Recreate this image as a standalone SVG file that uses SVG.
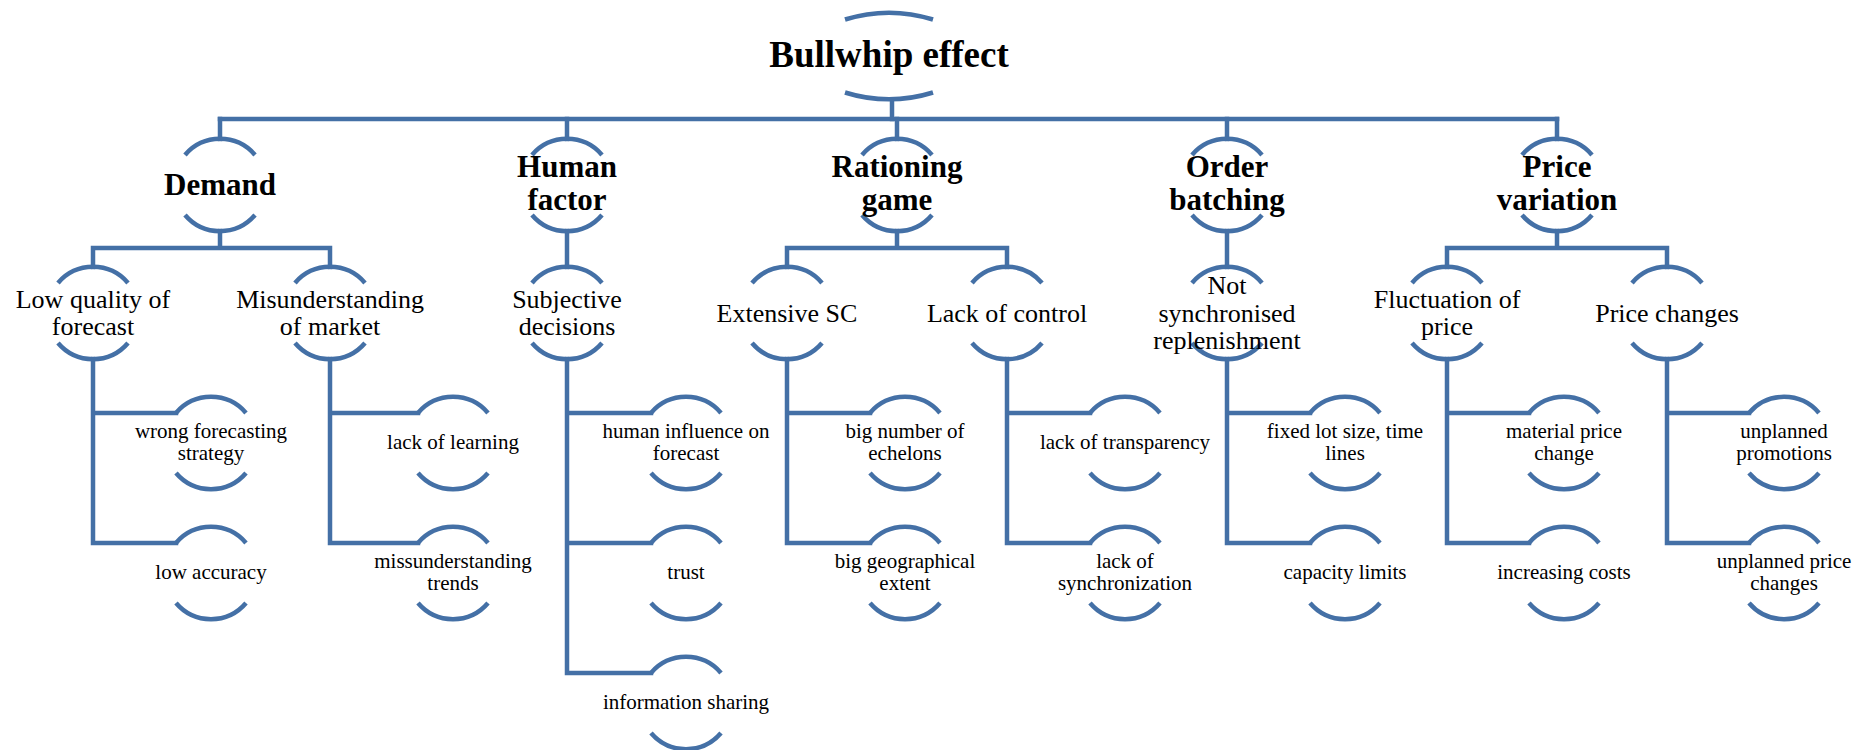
<svg xmlns="http://www.w3.org/2000/svg" xmlns:xlink="http://www.w3.org/1999/xlink" width="1872" height="750" viewBox="0 0 1872 750">
  <style>
    .arc { fill: none; stroke: #4470a6; stroke-width: 4.5; stroke-linecap: butt; }
    .con { fill: none; stroke: #4470a6; stroke-width: 4.5; stroke-linecap: square; stroke-linejoin: miter; }
    text { fill: #000; text-anchor: middle; font-family: "Liberation Serif", "Times New Roman", serif; }
    .t0 { font-size: 37px; font-weight: bold; }
    .t1 { font-size: 31px; font-weight: bold; }
    .t2 { font-size: 26px; }
    .t3 { font-size: 21px; }
  </style>
  <defs>
    <!-- half-circle brackets drawn above and below every label -->
    <path id="arcTop" class="arc" d="M -35 -30 A 46 46 0 0 1 35 -30"/>
    <path id="arcBot" class="arc" d="M -35 30 A 46 46 0 0 0 35 30"/>
    <!-- flatter brackets for the title node -->
    <path id="rootTop" class="arc" d="M -44 -37 A 148 148 0 0 1 44 -37"/>
    <path id="rootBot" class="arc" d="M -44 36 A 148 148 0 0 0 44 36"/>
  </defs>
  <rect width="1872" height="750" fill="#fff"/>

  <!-- connectors -->
  <g id="connectors" class="con">
    <!-- title to first level -->
    <path d="M 892 100 V 119"/>
    <path d="M 220 119 H 1557"/>
    <path d="M 220 119 V 139 M 567 119 V 139 M 897 119 V 139 M 1227 119 V 139 M 1557 119 V 139"/>
    <!-- first level to second level -->
    <path d="M 220 231 V 248 M 93 267 V 248 H 330 V 267"/>
    <path d="M 567 231 V 267"/>
    <path d="M 897 231 V 248 M 787 267 V 248 H 1007 V 267"/>
    <path d="M 1227 231 V 267"/>
    <path d="M 1557 231 V 248 M 1447 267 V 248 H 1667 V 267"/>
    <!-- second level to leaves -->
    <path d="M 93 359 V 543 H 176 M 93 413 H 176"/>
    <path d="M 330 359 V 543 H 418 M 330 413 H 418"/>
    <path d="M 567 359 V 673 H 651 M 567 413 H 651 M 567 543 H 651"/>
    <path d="M 787 359 V 543 H 870 M 787 413 H 870"/>
    <path d="M 1007 359 V 543 H 1090 M 1007 413 H 1090"/>
    <path d="M 1227 359 V 543 H 1310 M 1227 413 H 1310"/>
    <path d="M 1447 359 V 543 H 1529 M 1447 413 H 1529"/>
    <path d="M 1667 359 V 543 H 1749 M 1667 413 H 1749"/>
  </g>

  <!-- title -->
  <g id="bullwhip-effect" transform="translate(889,56.5)">
    <use xlink:href="#rootTop"/><use xlink:href="#rootBot"/>
    <text class="t0" y="10.5">Bullwhip effect</text>
  </g>

  <!-- first level -->
  <g id="demand" transform="translate(220,185)">
    <use xlink:href="#arcTop"/><use xlink:href="#arcBot"/>
    <text class="t1" y="9.5">Demand</text>
  </g>
  <g id="human-factor" transform="translate(567,185)">
    <use xlink:href="#arcTop"/><use xlink:href="#arcBot"/>
    <text class="t1"><tspan x="0" y="-8">Human</tspan><tspan x="0" y="25">factor</tspan></text>
  </g>
  <g id="rationing-game" transform="translate(897,185)">
    <use xlink:href="#arcTop"/><use xlink:href="#arcBot"/>
    <text class="t1"><tspan x="0" y="-8">Rationing</tspan><tspan x="0" y="25">game</tspan></text>
  </g>
  <g id="order-batching" transform="translate(1227,185)">
    <use xlink:href="#arcTop"/><use xlink:href="#arcBot"/>
    <text class="t1"><tspan x="0" y="-8">Order</tspan><tspan x="0" y="25">batching</tspan></text>
  </g>
  <g id="price-variation" transform="translate(1557,185)">
    <use xlink:href="#arcTop"/><use xlink:href="#arcBot"/>
    <text class="t1"><tspan x="0" y="-8">Price</tspan><tspan x="0" y="25">variation</tspan></text>
  </g>

  <!-- second level -->
  <g id="low-quality-of-forecast" transform="translate(93,313)">
    <use xlink:href="#arcTop"/><use xlink:href="#arcBot"/>
    <text class="t2"><tspan x="0" y="-5">Low quality of</tspan><tspan x="0" y="22">forecast</tspan></text>
  </g>
  <g id="misunderstanding-of-market" transform="translate(330,313)">
    <use xlink:href="#arcTop"/><use xlink:href="#arcBot"/>
    <text class="t2"><tspan x="0" y="-5">Misunderstanding</tspan><tspan x="0" y="22">of market</tspan></text>
  </g>
  <g id="subjective-decisions" transform="translate(567,313)">
    <use xlink:href="#arcTop"/><use xlink:href="#arcBot"/>
    <text class="t2"><tspan x="0" y="-5">Subjective</tspan><tspan x="0" y="22">decisions</tspan></text>
  </g>
  <g id="extensive-sc" transform="translate(787,313)">
    <use xlink:href="#arcTop"/><use xlink:href="#arcBot"/>
    <text class="t2" y="8.5">Extensive SC</text>
  </g>
  <g id="lack-of-control" transform="translate(1007,313)">
    <use xlink:href="#arcTop"/><use xlink:href="#arcBot"/>
    <text class="t2" y="8.5">Lack of control</text>
  </g>
  <g id="not-synchronised-replenishment" transform="translate(1227,313)">
    <use xlink:href="#arcTop"/><use xlink:href="#arcBot"/>
    <text class="t2"><tspan x="0" y="-19">Not</tspan><tspan x="0" y="8.5">synchronised</tspan><tspan x="0" y="36">replenishment</tspan></text>
  </g>
  <g id="fluctuation-of-price" transform="translate(1447,313)">
    <use xlink:href="#arcTop"/><use xlink:href="#arcBot"/>
    <text class="t2"><tspan x="0" y="-5">Fluctuation of</tspan><tspan x="0" y="22">price</tspan></text>
  </g>
  <g id="price-changes" transform="translate(1667,313)">
    <use xlink:href="#arcTop"/><use xlink:href="#arcBot"/>
    <text class="t2" y="8.5">Price changes</text>
  </g>

  <!-- leaves -->
  <g id="wrong-forecasting-strategy" transform="translate(211,443)">
    <use xlink:href="#arcTop"/><use xlink:href="#arcBot"/>
    <text class="t3"><tspan x="0" y="-5">wrong forecasting</tspan><tspan x="0" y="17">strategy</tspan></text>
  </g>
  <g id="low-accuracy" transform="translate(211,573)">
    <use xlink:href="#arcTop"/><use xlink:href="#arcBot"/>
    <text class="t3" y="5.5">low accuracy</text>
  </g>
  <g id="lack-of-learning" transform="translate(453,443)">
    <use xlink:href="#arcTop"/><use xlink:href="#arcBot"/>
    <text class="t3" y="5.5">lack of learning</text>
  </g>
  <g id="missunderstanding-trends" transform="translate(453,573)">
    <use xlink:href="#arcTop"/><use xlink:href="#arcBot"/>
    <text class="t3"><tspan x="0" y="-5">missunderstanding</tspan><tspan x="0" y="17">trends</tspan></text>
  </g>
  <g id="human-influence-on-forecast" transform="translate(686,443)">
    <use xlink:href="#arcTop"/><use xlink:href="#arcBot"/>
    <text class="t3"><tspan x="0" y="-5">human influence on</tspan><tspan x="0" y="17">forecast</tspan></text>
  </g>
  <g id="trust" transform="translate(686,573)">
    <use xlink:href="#arcTop"/><use xlink:href="#arcBot"/>
    <text class="t3" y="5.5">trust</text>
  </g>
  <g id="information-sharing" transform="translate(686,703)">
    <use xlink:href="#arcTop"/><use xlink:href="#arcBot"/>
    <text class="t3" y="5.5">information sharing</text>
  </g>
  <g id="big-number-of-echelons" transform="translate(905,443)">
    <use xlink:href="#arcTop"/><use xlink:href="#arcBot"/>
    <text class="t3"><tspan x="0" y="-5">big number of</tspan><tspan x="0" y="17">echelons</tspan></text>
  </g>
  <g id="big-geographical-extent" transform="translate(905,573)">
    <use xlink:href="#arcTop"/><use xlink:href="#arcBot"/>
    <text class="t3"><tspan x="0" y="-5">big geographical</tspan><tspan x="0" y="17">extent</tspan></text>
  </g>
  <g id="lack-of-transparency" transform="translate(1125,443)">
    <use xlink:href="#arcTop"/><use xlink:href="#arcBot"/>
    <text class="t3" y="5.5">lack of transparency</text>
  </g>
  <g id="lack-of-synchronization" transform="translate(1125,573)">
    <use xlink:href="#arcTop"/><use xlink:href="#arcBot"/>
    <text class="t3"><tspan x="0" y="-5">lack of</tspan><tspan x="0" y="17">synchronization</tspan></text>
  </g>
  <g id="fixed-lot-size-time-lines" transform="translate(1345,443)">
    <use xlink:href="#arcTop"/><use xlink:href="#arcBot"/>
    <text class="t3"><tspan x="0" y="-5">fixed lot size, time</tspan><tspan x="0" y="17">lines</tspan></text>
  </g>
  <g id="capacity-limits" transform="translate(1345,573)">
    <use xlink:href="#arcTop"/><use xlink:href="#arcBot"/>
    <text class="t3" y="5.5">capacity limits</text>
  </g>
  <g id="material-price-change" transform="translate(1564,443)">
    <use xlink:href="#arcTop"/><use xlink:href="#arcBot"/>
    <text class="t3"><tspan x="0" y="-5">material price</tspan><tspan x="0" y="17">change</tspan></text>
  </g>
  <g id="increasing-costs" transform="translate(1564,573)">
    <use xlink:href="#arcTop"/><use xlink:href="#arcBot"/>
    <text class="t3" y="5.5">increasing costs</text>
  </g>
  <g id="unplanned-promotions" transform="translate(1784,443)">
    <use xlink:href="#arcTop"/><use xlink:href="#arcBot"/>
    <text class="t3"><tspan x="0" y="-5">unplanned</tspan><tspan x="0" y="17">promotions</tspan></text>
  </g>
  <g id="unplanned-price-changes" transform="translate(1784,573)">
    <use xlink:href="#arcTop"/><use xlink:href="#arcBot"/>
    <text class="t3"><tspan x="0" y="-5">unplanned price</tspan><tspan x="0" y="17">changes</tspan></text>
  </g>
</svg>
